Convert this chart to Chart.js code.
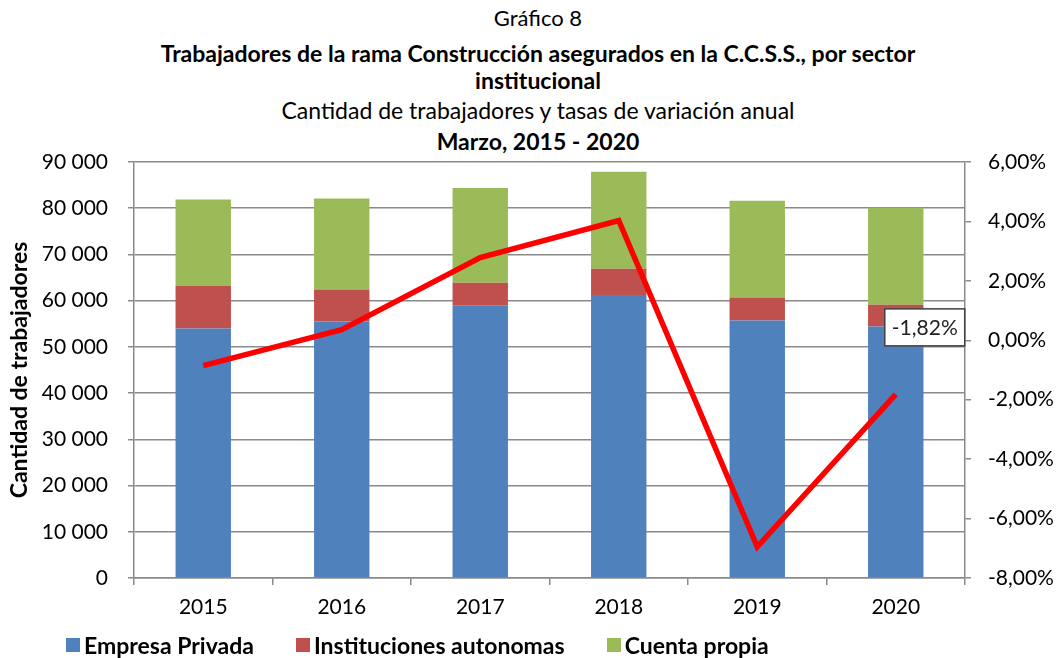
<!DOCTYPE html>
<html>
<head>
<meta charset="utf-8">
<script src="https://cdn.jsdelivr.net/npm/chart.js@4.4.0/dist/chart.umd.min.js"></script>
<style>
  html, body { margin: 0; padding: 0; background: #fff; }
  body { width: 1060px; height: 658px; position: relative; overflow: hidden; font-family: Lato, "Open Sans", sans-serif; color: #000; }
  .t { position: absolute; left: 0; width: 1076px; text-align: center; font-size: 23px; line-height: 28px; }
  .b { font-weight: bold; }
  #wrap { position: absolute; left: 0; top: 0; width: 1060px; height: 658px; }
  #legend { position: absolute; left: 66px; top: 631px; display: flex; align-items: center; font-weight: bold; font-size: 23px; line-height: 28px; }
  #legend .item { display: flex; align-items: center; margin-right: 42px; }
  #legend .sw { width: 14px; height: 14px; margin-right: 4px; }
</style>
</head>
<body>
<div class="t" style="top:4px;font-size:22px">Gráfico 8</div>
<div class="t b" style="top:39px">Trabajadores de la rama Construcción asegurados en la C.C.S.S., por sector</div>
<div class="t b" style="top:66px">institucional</div>
<div class="t" style="top:96px">Cantidad de trabajadores y tasas de variación anual</div>
<div class="t b" style="top:127px">Marzo, 2015 - 2020</div>
<div id="wrap"><canvas id="chart" width="1060" height="658"></canvas></div>
<div id="legend"></div>
<script>
const years = ["2015", "2016", "2017", "2018", "2019", "2020"];
const empresaPrivada = [54000, 55500, 59000, 61200, 55700, 54400];
const institucionesAutonomas = [9200, 6900, 4900, 5700, 5000, 4700];
const cuentaPropia = [18700, 19700, 20500, 21000, 20900, 21000];
const tasaVariacion = [-0.85, 0.36, 2.78, 4.03, -6.95, -1.82];

const colors = {
  empresa: "#4f81bd",
  instituciones: "#c0504d",
  cuenta: "#9bbb59",
  linea: "#ff0000",
  grid: "#8a8a8a",
};

const fmtMiles = (v) => String(v).replace(/\B(?=(\d{3})+(?!\d))/g, " ");
const fmtPct = (v) => v.toFixed(2).replace(".", ",") + "%";

// etiqueta del ultimo punto (-1,82%)
const lastLabel = {
  id: "lastLabel",
  afterDatasetsDraw(chart) {
    const meta = chart.getDatasetMeta(0);
    const idx = tasaVariacion.length - 1;
    const pt = meta.data[idx];
    if (!pt) return;
    const ctx = chart.ctx;
    const text = fmtPct(tasaVariacion[idx]);
    ctx.save();
    ctx.font = "21px Lato";
    const w = ctx.measureText(text).width + 14;
    const h = 37;
    const cx = pt.x + 29;
    const cy = pt.y - 67;
    ctx.fillStyle = "#fff";
    ctx.fillRect(cx - w / 2, cy - h / 2, w, h);
    ctx.strokeStyle = "#404040";
    ctx.lineWidth = 1.5;
    ctx.strokeRect(cx - w / 2, cy - h / 2, w, h);
    ctx.fillStyle = "#222";
    ctx.textAlign = "center";
    ctx.textBaseline = "middle";
    ctx.fillText(text, cx, cy + 1);
    ctx.restore();
  },
};

const chart = new Chart(document.getElementById("chart"), {
  data: {
    labels: years,
    datasets: [
      {
        type: "line",
        label: "Tasa de variación",
        data: tasaVariacion,
        yAxisID: "y1",
        borderColor: colors.linea,
        borderWidth: 5.5,
        pointRadius: 0,
        tension: 0,
        order: 0,
      },
      {
        type: "bar",
        label: "Empresa Privada",
        data: empresaPrivada,
        backgroundColor: colors.empresa,
        yAxisID: "y",
        stack: "s",
        order: 1,
      },
      {
        type: "bar",
        label: "Instituciones autonomas",
        data: institucionesAutonomas,
        backgroundColor: colors.instituciones,
        yAxisID: "y",
        stack: "s",
        order: 1,
      },
      {
        type: "bar",
        label: "Cuenta propia",
        data: cuentaPropia,
        backgroundColor: colors.cuenta,
        yAxisID: "y",
        stack: "s",
        order: 1,
      },
    ],
  },
  options: {
    responsive: false,
    animation: false,
    layout: { padding: { top: 162, bottom: 30, left: 0, right: 0 } },
    datasets: { bar: { barPercentage: 0.4, categoryPercentage: 1 } },
    plugins: { legend: { display: false }, tooltip: { enabled: false } },
    scales: {
      x: {
        stacked: true,
        offset: true,
        grid: { offset: true, drawOnChartArea: false, color: colors.grid, tickLength: 7, lineWidth: 1.5 },
        border: { color: colors.grid, width: 1.5 },
        ticks: { color: "#000", font: { family: "Lato", size: 21 }, padding: 10 },
        afterFit: (s) => { s.height = 50; },
      },
      y: {
        stacked: true,
        position: "left",
        min: 0,
        max: 90000,
        ticks: { stepSize: 10000, color: "#000", font: { family: "Lato", size: 21 }, padding: 20, callback: (v) => fmtMiles(v) },
        grid: { color: colors.grid, lineWidth: 1.5, tickLength: 6 },
        border: { color: colors.grid, width: 1.5 },
        title: { display: true, text: "Cantidad de trabajadores", color: "#000", padding: { top: 6 }, font: { family: "Lato", size: 23, weight: "bold" } },
        afterFit: (s) => { s.width = 134; },
      },
      y1: {
        position: "right",
        min: -8,
        max: 6,
        ticks: { stepSize: 2, color: "#000", font: { family: "Lato", size: 21 }, padding: 17, callback: (v) => fmtPct(v) },
        grid: { drawOnChartArea: false, color: colors.grid, lineWidth: 1.5, tickLength: 6 },
        border: { color: colors.grid, width: 1.5 },
        afterFit: (s) => { s.width = 95; },
      },
    },
  },
  plugins: [lastLabel],
});

// leyenda
const legend = document.getElementById("legend");
chart.data.datasets.filter((d) => d.type === "bar").forEach((d) => {
  const item = document.createElement("div");
  item.className = "item";
  item.innerHTML = '<span class="sw" style="background:' + d.backgroundColor + '"></span><span>' + d.label + "</span>";
  legend.appendChild(item);
});
</script>
</body>
</html>
